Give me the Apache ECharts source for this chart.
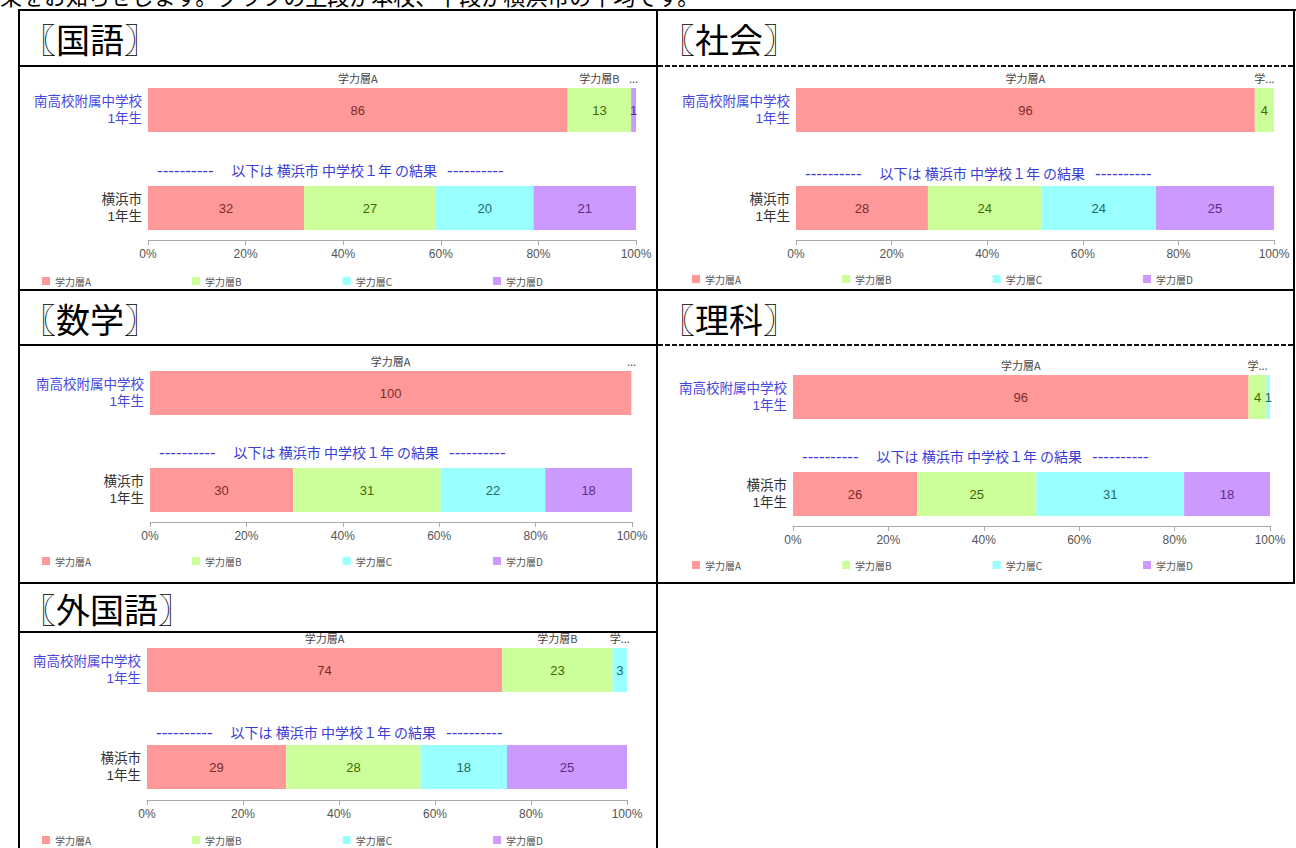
<!DOCTYPE html>
<html><head><meta charset="utf-8">
<script src="https://cdn.jsdelivr.net/npm/echarts/dist/echarts.min.js"></script>
<style>
html,body{margin:0;padding:0;background:#fff;width:1296px;height:848px;overflow:hidden;}
#main{position:absolute;left:0;top:0;width:1296px;height:848px;}
</style></head><body>
<div id="main"></div>
<script>
// ---- text / categories ----
const introText = '果をお知らせします。グラフの上段が本校、下段が横浜市の平均です。';
const subjects = ['〖国語〗', '〖社会〗', '〖数学〗', '〖理科〗', '〖外国語〗'];
const levels = ['学力層A', '学力層B', '学力層C', '学力層D'];
const categories = ['南高校附属中学校\n1年生', '横浜市\n1年生'];
const dividerDashes = '----------';
const dividerText = '以下は 横浜市 中学校１年 の結果';

// ---- values (percent, A..D) ----
const kokugoSchool = [86, 13, 0, 1];
const kokugoCity = [32, 27, 20, 21];
const shakaiSchool = [96, 4, 0, 0];
const shakaiCity = [27.6, 23.8, 23.9, 24.7];
const sugakuSchool = [99.8, 0.2, 0, 0];
const sugakuCity = [29.7, 30.6, 21.7, 18.0];
const rikaSchool = [95.5, 3.8, 0.7, 0];
const rikaCity = [26, 25, 31, 18];
const gaikokugoSchool = [74, 23, 3, 0];
const gaikokugoCity = [29, 28, 18, 25];

const schoolRows = [kokugoSchool, shakaiSchool, sugakuSchool, rikaSchool, gaikokugoSchool];
const cityRows = [kokugoCity, shakaiCity, sugakuCity, rikaCity, gaikokugoCity];

// ---- styling / layout ----
const barColors = ['#FF9999', '#CCFF99', '#99FFFF', '#CC99FF'];
const labelColors = ['#7f2a2a', '#3f6a00', '#1f6a6a', '#5a2f8a'];
const FONT = '"Noto Sans CJK JP", "Noto Sans", sans-serif';
const NUMFONT = '"Liberation Sans", "Noto Sans CJK JP", sans-serif';

const layouts = [
  {gx: [148, 636], c: [110, 208], axisY: 240, legend: [42, 282], dashY: 170, head: [22, 38]},
  {gx: [796, 1274], c: [110, 208], axisY: 240, legend: [692, 280], dashY: 173, head: [661, 38]},
  {gx: [150, 632], c: [393, 490], axisY: 522, legend: [42, 562], dashY: 452, head: [22, 318]},
  {gx: [793, 1270], c: [397, 494], axisY: 526, legend: [692, 566], dashY: 456, head: [661, 318]},
  {gx: [147, 627], c: [670, 767], axisY: 800, legend: [42, 841], dashY: 732, head: [22, 608]}
];

const option = {
  animation: false,
  backgroundColor: '#fff',
  grid: [], xAxis: [], yAxis: [], series: [], legend: [], graphic: []
};

// table lines
const solid = (x, y, w, h) => ({type: 'rect', silent: true, shape: {x, y, width: w, height: h}, style: {fill: '#000'}});
const dashed = (x1, x2, y) => ({type: 'line', silent: true, shape: {x1, y1: y, x2, y2: y}, style: {stroke: '#111', lineWidth: 2, lineDash: [5, 2]}});
option.graphic.push(
  solid(18, 9, 1278, 2),
  solid(18, 9, 2, 839),
  solid(656, 9, 2, 839),
  solid(1293, 9, 2, 575),
  solid(18, 65, 640, 2), dashed(658, 1295, 66),
  solid(18, 289, 1277, 2),
  solid(18, 344, 640, 2), dashed(658, 1295, 345),
  solid(18, 582, 1277, 2),
  solid(18, 631, 640, 2)
);
option.graphic.push({type: 'text', silent: true, x: 0, y: -5,
  style: {text: introText, font: '22px ' + FONT, fill: '#000', verticalAlign: 'middle'}});

layouts.forEach((L, i) => {
  const gw = L.gx[1] - L.gx[0];
  const band = L.c[1] - L.c[0];
  const school = schoolRows[i], city = cityRows[i];

  option.graphic.push({type: 'text', silent: true, x: L.head[0], y: L.head[1],
    style: {text: subjects[i], font: '34px ' + FONT, fill: '#000', verticalAlign: 'middle'}});
  option.graphic.push({type: 'text', silent: true, x: L.gx[0] + 9, y: L.dashY,
    style: {
      text: '{d|' + dividerDashes + '}{g1| }{t|' + dividerText + '}{g2| }{d|' + dividerDashes + '}',
      verticalAlign: 'middle',
      rich: {
        d: {fontSize: 17, fontFamily: NUMFONT, fill: '#3c3cd6', height: 16},
        g1: {width: 18, fontSize: 13},
        g2: {width: 10, fontSize: 13},
        t: {fontSize: 14, fontFamily: FONT, fill: '#3c3cd6', height: 16}
      }
    }});

  option.grid.push({left: L.gx[0], width: gw, top: L.c[0] - band / 2, height: 2 * band});
  option.xAxis.push({
    gridIndex: i, type: 'value', min: 0, max: 100, interval: 20,
    offset: L.axisY - (L.c[1] + band / 2),
    axisLine: {show: true, lineStyle: {color: '#aaa'}},
    axisTick: {show: true, length: 5, lineStyle: {color: '#aaa'}},
    splitLine: {show: false},
    axisLabel: {formatter: '{value}%', color: '#555', fontSize: 12, fontFamily: NUMFONT, margin: 8}
  });
  option.yAxis.push({
    gridIndex: i, type: 'category', data: categories, inverse: true,
    axisLine: {show: false}, axisTick: {show: false},
    axisLabel: {
      margin: 6, fontSize: 13.5, lineHeight: 17, fontFamily: NUMFONT, align: 'right',
      color: (v, idx) => (idx === 0 ? '#4646e0' : '#333')
    }
  });
  levels.forEach((lv, k) => {
    option.series.push({
      name: lv, type: 'bar', stack: 'v' + i, xAxisIndex: i, yAxisIndex: i,
      barWidth: 44, barGap: '-100%',
      itemStyle: {color: barColors[k]},
      emphasis: {disabled: true},
      label: {
        show: true, position: 'inside', color: labelColors[k], fontSize: 13, fontFamily: NUMFONT,
        formatter: p => { const r = Math.round(p.value); return r > 0 ? String(r) : ''; }
      },
      data: [school[k], city[k]]
    });
  });
  levels.forEach((lv, k) => {
    const v = school[k];
    option.series.push({
      name: 'name-' + lv, type: 'bar', stack: 'n' + i, xAxisIndex: i, yAxisIndex: i,
      barWidth: 44, barGap: '-100%', silent: true,
      itemStyle: {color: 'rgba(0,0,0,0)'},
      labelLayout: {hideOverlap: true},
      label: {
        show: v > 0, position: 'top', distance: 5, color: '#444', fontSize: 11, fontFamily: FONT,
        formatter: lv, overflow: 'truncate', ellipsis: '...', width: v / 100 * gw + 10
      },
      data: [v, '-']
    });
  });
  option.legend.push({
    data: levels, left: L.legend[0], top: L.legend[1] - 6, padding: 0,
    icon: 'rect', itemWidth: 8, itemHeight: 8, itemGap: 101, selectedMode: false,
    textStyle: {fontSize: 10, color: '#555', fontFamily: FONT}
  });
});

const chart = echarts.init(document.getElementById('main'), null, {renderer: 'svg', width: 1296, height: 848});
chart.setOption(option);
</script>
</body></html>
